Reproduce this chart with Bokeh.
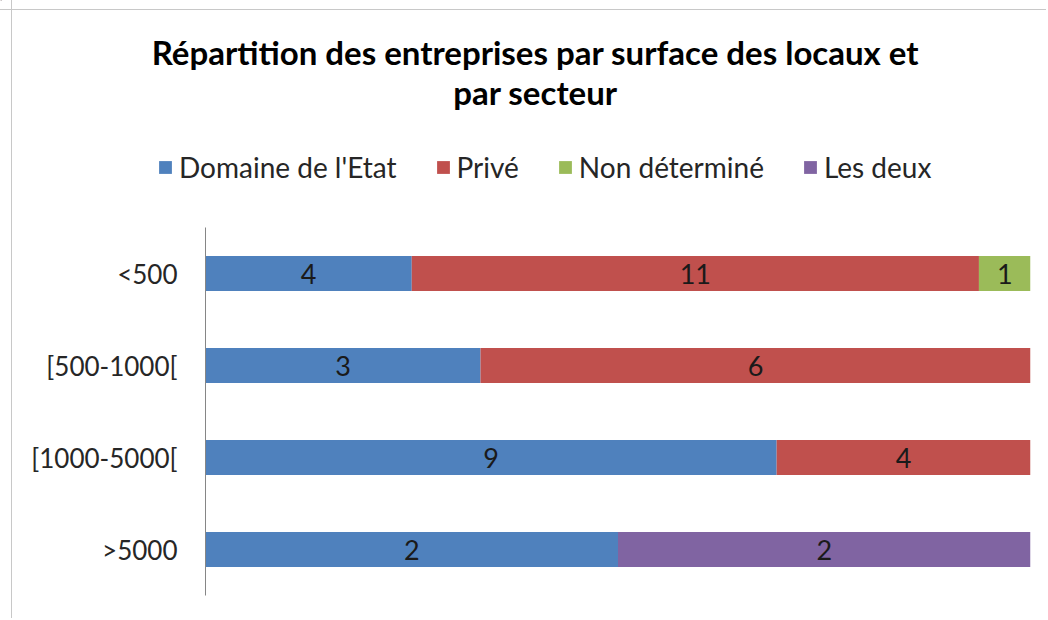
from bokeh.plotting import figure
from bokeh.layouts import column
from bokeh.models import ColumnDataSource, Legend, LegendItem, FactorRange, Range1d
from bokeh.embed import file_html
from bokeh.resources import INLINE
from bokeh.core.properties import value

categories = ["<500", "[500-1000[", "[1000-5000[", ">5000"]
series_names = ["Domaine de l'Etat", "Privé", "Non déterminé", "Les deux"]
domaine = [4, 3, 9, 2]
prive = [11, 6, 4, 0]
non_determine = [1, 0, 0, 0]
les_deux = [0, 0, 0, 2]
colors = ["#4F81BD", "#C0504D", "#9BBB59", "#8064A2"]
title_lines = ["Répartition des entreprises par surface des locaux et", "par secteur"]

series_values = [domaine, prive, non_determine, les_deux]
totals = [sum(v) for v in zip(*series_values)]

FONT = "Lato"
W = 1046
HEAD_H = 227                  # header (title + legend) height, page pixels
BODY_H = 391                  # bars area
FL, FR = 205, 1030            # frame left / right in page pixels
FRAME_H = 368

# ---------------- header: title + legend in pixel coordinates ----------------
head = figure(width=W, height=HEAD_H, x_range=Range1d(0, W), y_range=Range1d(HEAD_H, 0),
              x_axis_location=None, y_axis_location=None,
              output_backend="svg", toolbar_location=None, min_border=0,
              background_fill_alpha=0, border_fill_alpha=0)
head.outline_line_color = None
head.xgrid.visible = False
head.ygrid.visible = False

head.text(x=[535, 535], y=[51, 91], text=title_lines, text_align="center",
          text_baseline="alphabetic", text_font=value(FONT), text_font_size="33px",
          text_font_style="bold", text_color="#000000")

# legend proxies (kept outside the visible header area)
proxies = [head.hbar(y=[-1000], left=[0], right=[1], height=1, fill_color=c, line_color=None)
           for c in colors]
legend = Legend(
    items=[LegendItem(label=n, renderers=[r]) for n, r in zip(series_names, proxies)],
    orientation="horizontal", location=(157, HEAD_H - 184),
    glyph_width=16, glyph_height=16, label_standoff=6, spacing=38,
    label_text_font=FONT, label_text_font_size="28px", label_text_color="#262626",
    background_fill_alpha=0, border_line_color=None, padding=0, margin=0,
)
head.add_layout(legend)

# ---------------- body: 100% stacked horizontal bars ----------------
p = figure(
    y_range=FactorRange(*reversed(categories)),
    x_range=Range1d(0, 1),
    width=W, height=BODY_H,
    output_backend="svg", toolbar_location=None,
    min_border_left=FL, min_border_right=W - FR,
    min_border_top=0, min_border_bottom=BODY_H - FRAME_H,
    background_fill_color="white", border_fill_alpha=0,
)
p.outline_line_color = None
p.xgrid.visible = False
p.ygrid.visible = False
p.xaxis.visible = False
p.yaxis.axis_line_color = "#868686"
p.yaxis.major_tick_line_color = None
p.yaxis.minor_tick_line_color = None
p.yaxis.major_tick_out = 0
p.yaxis.major_tick_in = 0
p.yaxis.major_label_standoff = 28
p.yaxis.major_label_text_font = FONT
p.yaxis.major_label_text_font_size = "26px"
p.yaxis.major_label_text_color = "#262626"

lefts = [0.0] * len(categories)
lab_x, lab_y, lab_t = [], [], []
for name, vals, col in zip(series_names, series_values, colors):
    fr = [v / t for v, t in zip(vals, totals)]
    rights = [l + f for l, f in zip(lefts, fr)]
    src = ColumnDataSource(dict(y=categories, left=lefts, right=rights))
    p.hbar(y="y", left="left", right="right", height=0.38, source=src,
           fill_color=col, line_color=None)
    for c, v, l, rr in zip(categories, vals, lefts, rights):
        if v:
            lab_x.append((l + rr) / 2)
            lab_y.append(c)
            lab_t.append(str(v))
    lefts = rights

p.text(x=lab_x, y=lab_y, text=lab_t, text_align="center", text_baseline="middle",
       text_font=value(FONT), text_font_size="27px", text_color="#1a1a1a")

# keep each figure's own frame (no cross-plot frame alignment)
for fig in (head, p):
    fig.frame_align = False

border_css = ("linear-gradient(to right, transparent 11px, #C8C8C8 11px, #C8C8C8 12px, transparent 12px), "
              "linear-gradient(to bottom, transparent 9px, #C8C8C8 9px, #C8C8C8 10px, transparent 10px)")
layout = column(head, p, spacing=0,
                styles={"background-color": "white", "background-image": border_css,
                        "background-repeat": "no-repeat"})
open("out.html", "w").write(file_html(layout, INLINE))
